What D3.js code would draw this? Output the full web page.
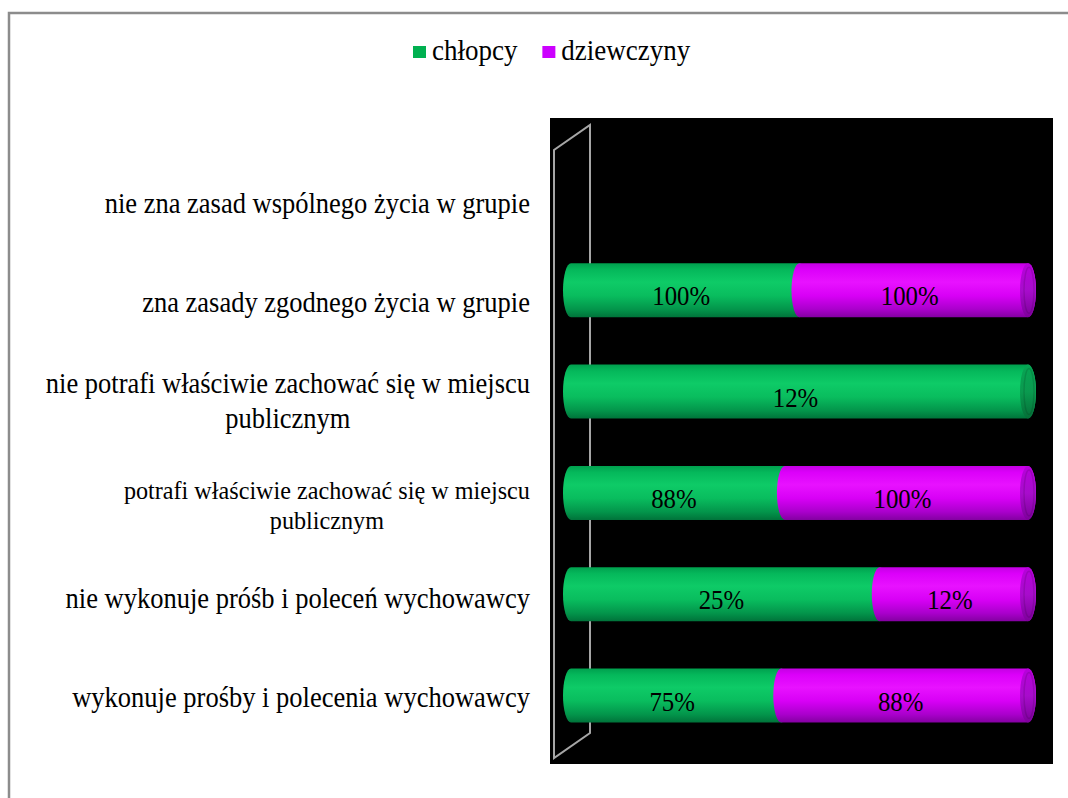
<!DOCTYPE html>
<html>
<head>
<meta charset="utf-8">
<script src="https://cdn.jsdelivr.net/npm/d3@7"></script>
<style>
  html, body { margin: 0; padding: 0; background: #fff; }
  svg { display: block; font-family: "Liberation Serif", "Times New Roman", serif; }
</style>
</head>
<body>
<div id="chart"></div>
<script>
// categories top to bottom, "\n" marks a line break in the label
const categories = [
  "nie zna zasad wspólnego życia w grupie",
  "zna zasady zgodnego życia w grupie",
  "nie potrafi właściwie zachować się w miejscu\npublicznym",
  "potrafi właściwie zachować się w miejscu\npublicznym",
  "nie wykonuje próśb i poleceń wychowawcy",
  "wykonuje prośby i polecenia wychowawcy"
];
const seriesNames = ["chłopcy", "dziewczyny"];
const chlopcy = [0, 100, 12, 88, 25, 75];
const dziewczyny = [0, 100, 0, 100, 12, 88];

const width = 1068, height = 798;
const squeeze = 0.93; // text in the original is a little narrow

const svg = d3.select("#chart").append("svg")
  .attr("width", width)
  .attr("height", height);

const defs = svg.append("defs");

function cylGradient(id, stops) {
  const g = defs.append("linearGradient")
    .attr("id", id)
    .attr("x1", 0).attr("y1", 0).attr("x2", 0).attr("y2", 1);
  stops.forEach(([o, c]) => g.append("stop").attr("offset", o).attr("stop-color", c));
}
cylGradient("gGreen", [[0, "#00a04e"], [0.12, "#05b85b"], [0.35, "#0ecb67"], [0.6, "#09bd5e"], [0.85, "#03954b"], [1, "#00733a"]]);
cylGradient("gMagenta", [[0, "#c400e4"], [0.12, "#dc00fa"], [0.35, "#e812ff"], [0.6, "#d800f6"], [0.85, "#aa00cc"], [1, "#8400a2"]]);
cylGradient("gGreenCap", [[0, "#07a553"], [0.5, "#0a9a4f"], [1, "#056f38"]]);
cylGradient("gMagentaCap", [[0, "#b800dc"], [0.5, "#a80ccc"], [1, "#7e009c"]]);

const fills = { "chłopcy": "url(#gGreen)", "dziewczyny": "url(#gMagenta)" };
const capFills = { "chłopcy": "url(#gGreenCap)", "dziewczyny": "url(#gMagentaCap)" };
const legendColors = { "chłopcy": "#00b050", "dziewczyny": "#cc00ff" };

// outer chart border
svg.append("rect")
  .attr("x", 9).attr("y", 13)
  .attr("width", width + 10).attr("height", height + 10)
  .attr("fill", "none")
  .attr("stroke", "#8c8c8c")
  .attr("stroke-width", 2.5);

// black plot area
svg.append("rect")
  .attr("x", 550).attr("y", 118)
  .attr("width", 503).attr("height", 646)
  .attr("fill", "#000");

// 3D side wall
svg.append("path")
  .attr("d", "M590,125 L590,733 L554,758 L554,150 Z")
  .attr("fill", "none")
  .attr("stroke", "#a6a6a6")
  .attr("stroke-width", 2);

// data
const table = categories.map((c, i) => ({ cat: c, "chłopcy": chlopcy[i], "dziewczyny": dziewczyny[i] }));
const stack = d3.stack().keys(seriesNames).offset(d3.stackOffsetExpand);
const series = stack(table);

const x = d3.scaleLinear().domain([0, 1]).range([571, 1028]);
const y = d3.scalePoint().domain(categories).range([189, 695.5]);
const yLabel = d3.scalePoint().domain(categories).range([205, 699]);

const barH = 54, rx = 8, ry = barH / 2;

function segPath(x0, x1, cy) {
  const t = cy - ry, b = cy + ry;
  return `M${x0},${t} L${x1},${t} A${rx},${ry} 0 0 1 ${x1},${b} L${x0},${b} A${rx},${ry} 0 0 1 ${x0},${t} Z`;
}

const rows = svg.append("g");
series.forEach(s => {
  rows.append("g")
    .selectAll("path")
    .data(s.filter(d => d[1] - d[0] > 0))
    .join("path")
    .attr("d", d => segPath(x(d[0]), x(d[1]), y(d.data.cat)))
    .attr("fill", fills[s.key]);
});

// end caps on the last visible segment of each row
categories.forEach((c, i) => {
  let lastKey = null;
  series.forEach(s => { if (s[i][1] - s[i][0] > 0) lastKey = s.key; });
  if (!lastKey) return;
  rows.append("ellipse")
    .attr("cx", x(1)).attr("cy", y(c))
    .attr("rx", rx).attr("ry", ry)
    .attr("fill", capFills[lastKey]);
  rows.append("ellipse")
    .attr("cx", x(1) + 1).attr("cy", y(c))
    .attr("rx", rx - 3).attr("ry", ry - 4)
    .attr("fill", "none")
    .attr("stroke", "#000")
    .attr("stroke-opacity", 0.12)
    .attr("stroke-width", 1.5);
});

// data labels
series.forEach((s, si) => {
  const vals = si === 0 ? chlopcy : dziewczyny;
  rows.append("g")
    .selectAll("text")
    .data(s.map((d, i) => ({ d, v: vals[i] })).filter(o => o.d[1] - o.d[0] > 0))
    .join("text")
    .attr("transform", o => `translate(${(x(o.d[0]) + x(o.d[1])) / 2 - 4},${y(o.d.data.cat) + 15}) scale(0.92,1)`)
    .attr("text-anchor", "middle")
    .attr("font-size", 27)
    .attr("fill", "#000")
    .text(o => o.v + "%");
});

// category labels
const labelSize = { 3: 26 };
const labelShift = { 3: 5 };
const labelRight = 530;
categories.forEach((c, i) => {
  const fs = labelSize[i] || 28.5;
  const lines = c.split("\n");
  const lh = fs * (lines.length > 1 && i === 3 ? 1.15 : 1.25);
  const t = svg.append("text")
    .attr("font-size", fs)
    .attr("fill", "#000")
    .attr("text-anchor", "middle");
  const first = yLabel(c) + (labelShift[i] || 0) - (lines.length - 1) * lh / 2 + fs * 0.28;
  lines.forEach((ln, k) => {
    t.append("tspan").attr("x", 0).attr("y", first + k * lh).text(ln);
  });
  let maxW = 0;
  t.selectAll("tspan").each(function () { maxW = Math.max(maxW, this.getComputedTextLength()); });
  t.attr("transform", `translate(${labelRight - maxW * squeeze / 2},0) scale(${squeeze},1)`);
});

// legend
const legend = svg.append("g");
let lx = 413;
seriesNames.forEach(name => {
  legend.append("rect")
    .attr("x", lx).attr("y", 46)
    .attr("width", 13).attr("height", 12)
    .attr("fill", legendColors[name]);
  const tx = legend.append("text")
    .attr("transform", `translate(${lx + 19},60) scale(${squeeze},1)`)
    .attr("font-size", 29)
    .attr("fill", "#000")
    .text(name);
  lx += 19 + tx.node().getComputedTextLength() * squeeze + 25;
});
</script>
</body>
</html>
